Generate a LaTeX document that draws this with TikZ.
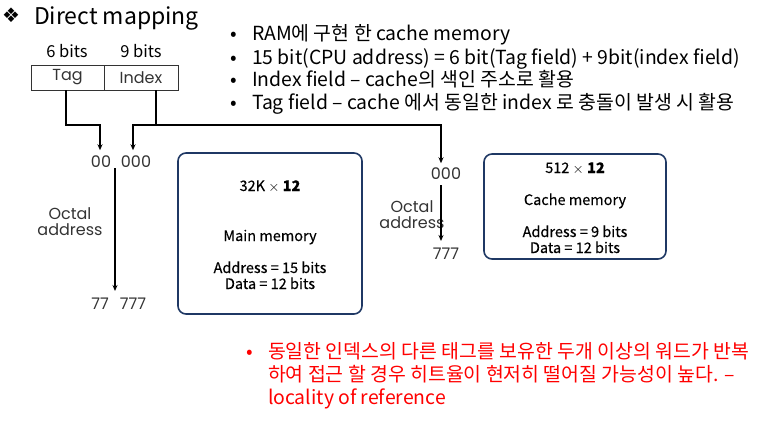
\documentclass[tikz,border=0pt]{standalone}
\usepackage{fontspec}
\setmainfont{Noto Sans CJK KR}
\newfontfamily\symfont{DejaVu Sans}
\newfontfamily\geofont{Poppins}
\usetikzlibrary{arrows.meta}
\definecolor{boxblue}{HTML}{1F3864}
\definecolor{txtgray}{HTML}{333333}
\tikzset{
  every node/.style={inner sep=0pt, outer sep=0pt},
  bullettxt/.style={anchor=base west, font=\fontsize{19.4}{22}\selectfont},
  geo/.style={font=\geofont\fontsize{16}{18}\selectfont, text=txtgray},
  geonum/.style={geo, anchor=base},
  membox/.style={draw=boxblue, line width=1.6pt, rounded corners=8pt},
  memtxt/.style={font=\fontsize{14.5}{16}\selectfont\addfontfeatures{FakeBold=0.3}, anchor=base},
  field/.style={draw=txtgray, line width=0.9pt, minimum height=25pt},
  wire/.style={line width=1.2pt, black},
  arr/.style={wire, -{Stealth[length=6pt,width=5pt]}},
}
\begin{document}
\begin{tikzpicture}[x=1pt,y=-1pt]
\useasboundingbox (0,0) rectangle (770,420);

% title
\node[anchor=base west, font=\fontsize{20}{22}\selectfont] (bul) at (2,23)
  {\symfont ❖};
\node[anchor=base west, font=\fontsize{23}{28}\selectfont] (title) at (34,25)
  {Direct mapping};

% address fields
\node[field, minimum width=73pt, anchor=north west, geo] (tag) at (31,65) {Tag};
\node[field, minimum width=74pt, anchor=north west, geo] (index) at (104,65) {Index};
\node[anchor=base, font=\fontsize{16.5}{18}\selectfont] (tagbits) at (67,58) {6 bits};
\node[anchor=base, font=\fontsize{16.5}{18}\selectfont] (idxbits) at (141,58) {9 bits};

% octal address of main memory
\node[geonum] (hi) at (101,167) {00};
\node[geonum] (lo) at (136,167) {000};
\node[geonum] (hiend) at (100,309) {77};
\node[geonum] (loend) at (133,309) {777};
\node[geo, align=center] (oct1) at (70,222) {Octal\\[-2pt]address};
\coordinate (mtop) at (115,168);
\coordinate (mbot) at (115,291);

% octal address of cache
\node[geonum] (c0) at (446,179) {000};
\node[geonum] (c7) at (446,259) {777};
\node[geo, align=center] (oct2) at (412,215) {Octal\\[-2pt]address};
\coordinate (ctop) at (441,185);
\coordinate (cbot) at (441,241);

% wiring
\draw[arr] (tag.south -| 66,0) -- (66,125) -| ([xshift=-1pt,yshift=5pt]hi.north);
\draw[arr] (index.south -| 156,0) -- (156,125) -| ([xshift=-3pt,yshift=5pt]lo.north);
\draw[arr] (156,125) -| ([xshift=-5pt,yshift=4pt]c0.north);
\draw[arr] (mtop) -- (mbot);
\draw[arr] (ctop) -- (cbot);

% main memory
\node[membox, minimum width=184pt, minimum height=161pt, anchor=north west] (main) at (178,153) {};
\node[memtxt] (mcap) at (270,191) {32K $\times$ \textbf{12}};
\node[memtxt] (mname) at (270,241) {Main memory};
\node[memtxt] (maddr) at (270,273) {Address = 15 bits};
\node[memtxt] (mdata) at (270,289) {Data = 12 bits};

% cache memory
\node[membox, minimum width=182pt, minimum height=105pt, anchor=north west] (cache) at (484,154) {};
\node[memtxt] (ccap) at (575,173) {512 $\times$ \textbf{12}};
\node[memtxt] (cname) at (575,205) {Cache memory};
\node[memtxt] (caddr) at (575,237) {Address = 9 bits};
\node[memtxt] (cdata) at (575,253) {Data = 12 bits};

% notes
\foreach \y/\t [count=\i] in {
  41/{RAM에 구현 한 cache memory},
  64/{15 bit(CPU address) = 6 bit(Tag field) + 9bit(index field)},
  86/{Index field – cache의 색인 주소로 활용},
  109/{Tag field – cache 에서 동일한 index 로 충돌이 발생 시 활용}} {
  \node[bullettxt] (b\i) at (230,\y) {•};
  \node[bullettxt] (n\i) at (252,\y) {\t};
}

\node[bullettxt, text=red] (rb) at (246,358) {•};
\node[bullettxt, text=red] (r1) at (268,358) {동일한 인덱스의 다른 태그를 보유한 두개 이상의 워드가 반복};
\node[bullettxt, text=red] (r2) at (268,381) {하여 접근 할 경우 히트율이 현저히 떨어질 가능성이 높다. –};
\node[bullettxt, text=red] (r3) at (268,404) {locality of reference};
\end{tikzpicture}
\end{document}
